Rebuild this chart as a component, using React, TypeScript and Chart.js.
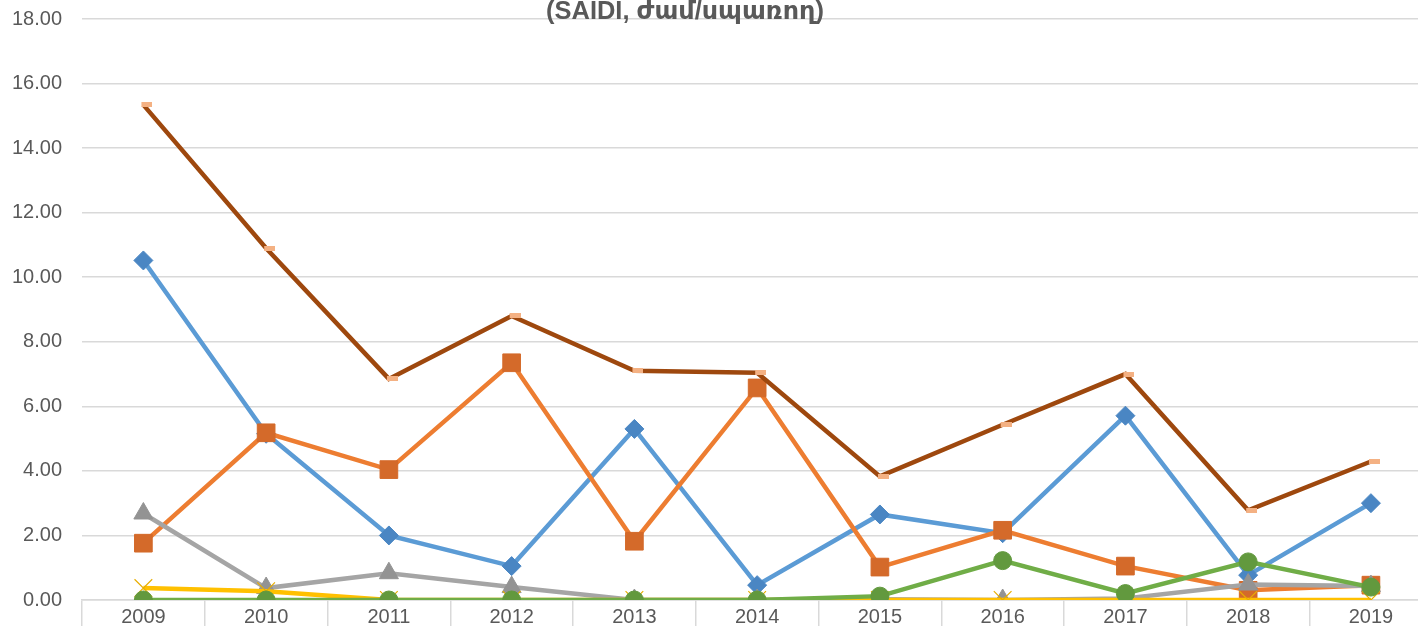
import React, { useEffect, useRef } from "react";
import { Chart, registerables } from "chart.js";

Chart.register(...registerables);

const years = ["2009", "2010", "2011", "2012", "2013", "2014", "2015", "2016", "2017", "2018", "2019"];
const totalValues = [15.34, 10.9, 6.85, 8.8, 7.1, 7.04, 3.83, 5.43, 7.0, 2.78, 4.29];
const blueValues = [10.52, 5.15, 2.0, 1.05, 5.3, 0.46, 2.65, 2.07, 5.71, 0.77, 3.0];
const orangeValues = [1.76, 5.18, 4.04, 7.35, 1.82, 6.57, 1.02, 2.16, 1.05, 0.3, 0.46];
const grayValues = [2.68, 0.37, 0.83, 0.4, 0.0, 0.0, 0.02, 0.0, 0.05, 0.48, 0.43];
const yellowValues = [0.37, 0.27, 0.0, 0.0, 0.0, 0.0, 0.0, 0.0, 0.0, 0.0, 0.0];
const greenValues = [0.0, 0.0, 0.0, 0.0, 0.0, 0.0, 0.12, 1.22, 0.2, 1.18, 0.4];
const titleText = "(SAIDI, ժամ/սպառող)";
const yTickMax = 18;
const yTickStep = 2;

const FONT = "'Liberation Sans', 'DejaVu Sans', sans-serif";
const TEXT_COLOR = "#595959";
const GRID_COLOR = "#d9d9d9";
const SHIFT = 13;

function makeDash(): HTMLCanvasElement {
  const c = document.createElement("canvas");
  c.width = 18;
  c.height = 5;
  const ctx = c.getContext("2d")!;
  ctx.fillStyle = "#F4B183";
  ctx.fillRect(7, 0, 11, 5);
  return c;
}

const titlePlugin = {
  id: "croppedTitle",
  afterDraw(chart: any) {
    const ctx = chart.ctx;
    ctx.save();
    const base = 24;
    ctx.font = `bold ${base}px ${FONT}`;
    const w = ctx.measureText(titleText).width;
    const size = (base * 278) / w;
    ctx.font = `bold ${size}px ${FONT}`;
    ctx.fillStyle = TEXT_COLOR;
    ctx.textAlign = "center";
    ctx.textBaseline = "alphabetic";
    ctx.fillText(titleText, 685, 19 + SHIFT);
    ctx.restore();
  },
};

export default function App() {
  const ref = useRef<HTMLCanvasElement | null>(null);
  useEffect(() => {
    if (!ref.current) return;
    const dash = makeDash();
    const common = { fill: false, tension: 0, borderWidth: 4.5 };
    const chart = new Chart(ref.current, {
      type: "line",
      data: {
        labels: years,
        datasets: [
          {
            ...common,
            label: "total",
            data: totalValues,
            borderColor: "#9E480E",
            pointStyle: dash as any,
            pointRadius: 6,
            order: 0,
          },
          {
            ...common,
            label: "green",
            data: greenValues,
            borderColor: "#70AD47",
            backgroundColor: "#62993E",
            pointBackgroundColor: "#62993E",
            pointBorderColor: "#62993E",
            pointStyle: "circle",
            pointRadius: 9,
            pointBorderWidth: 1,
            order: 1,
          },
          {
            ...common,
            label: "yellow",
            data: yellowValues,
            borderColor: "#FFC000",
            pointBorderColor: "#E8AE00",
            pointBackgroundColor: "#E8AE00",
            pointStyle: "crossRot",
            pointRadius: 12.5,
            pointBorderWidth: 1.2,
            order: 2,
          },
          {
            ...common,
            label: "gray",
            data: grayValues,
            borderColor: "#A5A5A5",
            pointBackgroundColor: "#939393",
            pointBorderColor: "#939393",
            pointStyle: "triangle",
            pointRadius: 11,
            pointBorderWidth: 1,
            order: 3,
          },
          {
            ...common,
            label: "orange",
            data: orangeValues,
            borderColor: "#ED7D31",
            pointBackgroundColor: "#D46A2A",
            pointBorderColor: "#D46A2A",
            pointStyle: "rect",
            pointRadius: 12.5,
            pointBorderWidth: 1,
            order: 4,
          },
          {
            ...common,
            label: "blue",
            data: blueValues,
            borderColor: "#5B9BD5",
            pointBackgroundColor: "#4A86C3",
            pointBorderColor: "#4A86C3",
            pointStyle: "rectRot",
            pointRadius: 9.5,
            pointBorderWidth: 1,
            order: 5,
          },
        ],
      },
      options: {
        animation: false,
        responsive: false,
        devicePixelRatio: 1,
        layout: { padding: { top: 17, left: 0, right: 0, bottom: 0 } },
        plugins: {
          legend: { display: false },
          title: { display: false },
          tooltip: { enabled: false },
        },
        scales: {
          x: {
            offset: true,
            grid: {
              offset: true,
              drawOnChartArea: false,
              drawTicks: true,
              tickLength: 26,
              color: GRID_COLOR,
              lineWidth: 1.5,
            },
            border: { display: true, color: GRID_COLOR, width: 1.5 },
            ticks: {
              padding: -21,
              color: TEXT_COLOR,
              font: { family: FONT, size: 20 },
              maxRotation: 0,
              autoSkip: false,
            },
            afterFit: (s: any) => {
              s.height = 26;
            },
          },
          y: {
            min: 0,
            max: yTickMax,
            ticks: {
              stepSize: yTickStep,
              color: TEXT_COLOR,
              font: { family: FONT, size: 20 },
              padding: 20,
              callback: (v: any) => Number(v).toFixed(2),
            },
            grid: { color: GRID_COLOR, lineWidth: 1.5, drawTicks: false },
            border: { display: false },
            afterFit: (s: any) => {
              s.width = 82;
            },
          },
        },
      },
      plugins: [titlePlugin],
    });
    return () => chart.destroy();
  }, []);

  return (
    <div
      style={{
        position: "fixed",
        left: 0,
        top: 0,
        width: 1418,
        height: 626,
        overflow: "hidden",
        background: "#fff",
      }}
    >
      <canvas
        ref={ref}
        width={1446}
        height={645}
        style={{ display: "block", position: "absolute", left: 0, top: -SHIFT }}
      />
    </div>
  );
}
